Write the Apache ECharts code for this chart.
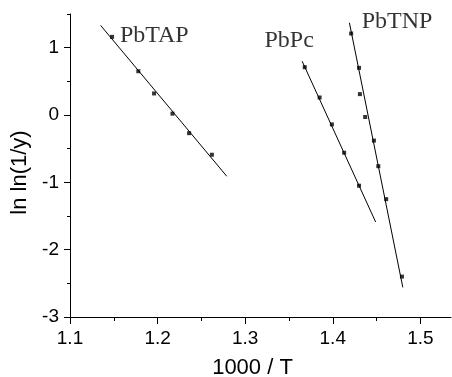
<!DOCTYPE html>
<html>
<head>
<meta charset="utf-8">
<script src="https://cdn.jsdelivr.net/npm/echarts@6/dist/echarts.min.js"></script>
<style>html,body{margin:0;padding:0;background:#fff}#c{width:452px;height:377px}</style>
</head>
<body>
<div id="c"></div>
<script>
// Data
const tapX = [1.148, 1.178, 1.196, 1.217, 1.236, 1.262];
const tapY = [1.16, 0.65, 0.32, 0.02, -0.27, -0.59];
const tapFitX = [1.135, 1.279];
const tapFitY = [1.33, -0.91];

const pcX = [1.368, 1.385, 1.399, 1.413, 1.430];
const pcY = [0.71, 0.26, -0.14, -0.56, -1.05];
const pcFitX = [1.365, 1.449];
const pcFitY = [0.80, -1.59];

const tnpX = [1.421, 1.430, 1.431, 1.437, 1.447, 1.452, 1.461, 1.479];
const tnpY = [1.21, 0.70, 0.31, -0.03, -0.38, -0.76, -1.25, -2.40];
const tnpFitX = [1.419, 1.480];
const tnpFitY = [1.37, -2.56];

const labelNames = ['PbTAP', 'PbPc', 'PbTNP'];
const labelX = [1.157, 1.322, 1.433];
const labelY = [1.18, 1.11, 1.38];

const xMajorTicks = [1.1, 1.2, 1.3, 1.4, 1.5];
const xMinorTicks = [1.15, 1.25, 1.35, 1.45];
const yMajorTicks = [-3, -2, -1, 0, 1];
const yMinorTicks = [-2.5, -1.5, -0.5, 0.5, 1.5];

const zip = (a, b) => a.map((v, i) => [v, b[i]]);

const chart = echarts.init(document.getElementById('c'), null, {renderer: 'canvas'});
const sansFont = 'Liberation Sans, Arial, Helvetica, sans-serif';
const axisCommon = {
  type: 'value',
  splitLine: {show: false},
  axisLine: {show: true, onZero: false, lineStyle: {color: '#000', width: 1}},
};
chart.setOption({
  animation: false,
  backgroundColor: '#fff',
  grid: {left: 70, right: 1, top: 14, bottom: 60, containLabel: false, outerBoundsMode: 'none'},
  xAxis: [
    Object.assign({}, axisCommon, {
      min: 1.1, max: 1.535,
      name: '1000 / T', nameLocation: 'middle', nameGap: 40,
      nameTextStyle: {fontFamily: sansFont, fontSize: 22, color: '#000', padding: [0, 16, 0, 0]},
      axisTick: {show: true, length: 7, inside: false, customValues: xMajorTicks, lineStyle: {color: '#000'}},
      axisLabel: {show: true, customValues: xMajorTicks, margin: 12, fontFamily: sansFont, fontSize: 19, color: '#000',
        formatter: v => v.toFixed(1)}
    }),
    Object.assign({}, axisCommon, {
      min: 1.1, max: 1.535, position: 'bottom',
      axisLine: {show: false, onZero: false},
      axisTick: {show: true, length: 4, inside: false, customValues: xMinorTicks, lineStyle: {color: '#000'}},
      axisLabel: {show: false}
    })
  ],
  yAxis: [
    Object.assign({}, axisCommon, {
      min: -3, max: 1.5,
      name: 'ln ln(1/y)', nameLocation: 'middle', nameGap: 32, nameRotate: 90,
      nameTextStyle: {fontFamily: sansFont, fontSize: 22, color: '#000', padding: [0, 14, 0, 0]},
      axisTick: {show: true, length: 6, inside: false, customValues: yMajorTicks, lineStyle: {color: '#000'}},
      axisLabel: {show: true, customValues: yMajorTicks, margin: 11, fontFamily: sansFont, fontSize: 19, color: '#000'}
    }),
    Object.assign({}, axisCommon, {
      min: -3, max: 1.5, position: 'left',
      axisLine: {show: false, onZero: false},
      axisTick: {show: true, length: 3, inside: false, customValues: yMinorTicks, lineStyle: {color: '#000'}},
      axisLabel: {show: false}
    })
  ],
  series: [
    {type: 'line', data: zip(tapFitX, tapFitY), symbol: 'none', lineStyle: {color: '#000', width: 1}},
    {type: 'line', data: zip(pcFitX, pcFitY), symbol: 'none', lineStyle: {color: '#000', width: 1}},
    {type: 'line', data: zip(tnpFitX, tnpFitY), symbol: 'none', lineStyle: {color: '#000', width: 1}},
    {type: 'scatter', data: zip(tapX, tapY), symbol: 'rect', symbolSize: 4, itemStyle: {color: '#000'}},
    {type: 'scatter', data: zip(pcX, pcY), symbol: 'rect', symbolSize: 4, itemStyle: {color: '#000'}},
    {type: 'scatter', data: zip(tnpX, tnpY), symbol: 'rect', symbolSize: 4, itemStyle: {color: '#000'}},
    {type: 'scatter', symbolSize: 0, silent: true,
      data: labelNames.map((n, i) => ({name: n, value: [labelX[i], labelY[i]]})),
      label: {show: true, position: 'right', distance: 0, formatter: p => p.name,
        fontFamily: 'Liberation Serif, Times New Roman, serif', fontSize: 24, color: '#000'}}
  ]
});
</script>
</body>
</html>
